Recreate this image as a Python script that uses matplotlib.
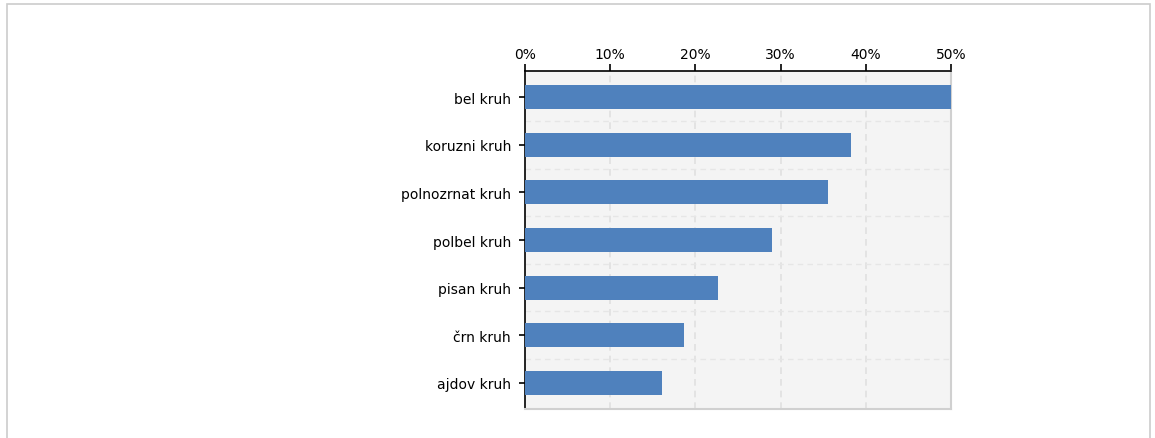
import matplotlib
matplotlib.use('Agg')
import matplotlib.pyplot as plt
from matplotlib.patches import Rectangle
from matplotlib.ticker import FuncFormatter

categories = ['bel kruh', 'koruzni kruh', 'polnozrnat kruh', 'polbel kruh',
              'pisan kruh', 'črn kruh', 'ajdov kruh']
shares = [50.0, 38.3, 35.6, 29.0, 22.7, 18.7, 16.1]
xticks = [0, 10, 20, 30, 40, 50]

fig = plt.figure(figsize=(11.55, 4.39), dpi=100)
ax = fig.add_axes([0.4545, 0.066, 0.3688, 0.770])
ax.set_facecolor('#f4f4f4')

pos = list(range(len(categories)))
ax.barh(pos, shares, height=0.5, color='#4f81bd', zorder=3)

ax.set_xlim(0, 50)
ax.set_ylim(len(categories) - 0.45, -0.55)
ax.set_yticks(pos)
ax.set_yticklabels(categories, fontsize=10)
ax.set_xticks(xticks)
ax.xaxis.set_major_formatter(FuncFormatter(lambda v, p: '%d%%' % v))
ax.xaxis.tick_top()
ax.tick_params(axis='x', labelsize=10, length=5, width=1.2, direction='out', pad=2)
ax.tick_params(axis='y', length=4, width=1.2, pad=6)

# vertical grid lines + faint horizontal separators
for v in xticks[1:-1]:
    ax.axvline(v, color='#e0e0e0', lw=1.2, ls=(0, (4, 3)), zorder=1)
for b in [p + 0.5 for p in pos[:-1]]:
    ax.axhline(b, color='#e6e6e6', lw=1.0, ls=(0, (4, 3)), zorder=1)

ax.spines['left'].set_color('black')
ax.spines['top'].set_color('black')
ax.spines['left'].set_linewidth(1.2)
ax.spines['top'].set_linewidth(1.2)
ax.spines['right'].set_color('#d0d0d0')
ax.spines['bottom'].set_color('#d0d0d0')
ax.spines['right'].set_linewidth(1.5)
ax.spines['bottom'].set_linewidth(1.5)

# outer frame of the picture
fig.patches.append(Rectangle((0.006, -0.01), 0.99, 0.998, transform=fig.transFigure,
                             fill=False, edgecolor='#cccccc', lw=1.2))

fig.savefig('out.png', dpi=100)
